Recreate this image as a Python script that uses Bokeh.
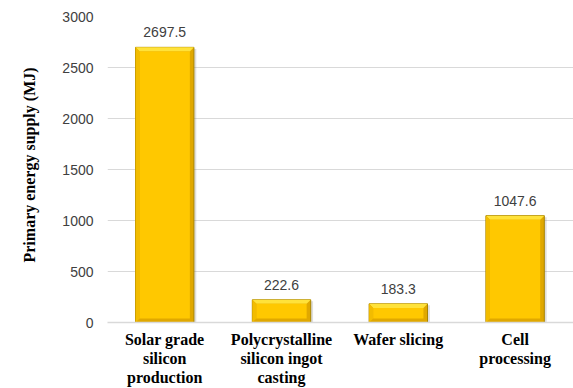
from bokeh.core.properties import value
from bokeh.embed import file_html
from bokeh.models import FixedTicker, Title
from bokeh.plotting import figure
from bokeh.resources import INLINE

# Primary energy supply per production stage (MJ)
stages = [
    "Solar grade\nsilicon\nproduction",
    "Polycrystalline\nsilicon ingot\ncasting",
    "Wafer slicing",
    "Cell\nprocessing",
]
energy_mj = [2697.5, 222.6, 183.3, 1047.6]
y_ticks = [0, 500, 1000, 1500, 2000, 2500, 3000]

xs = list(range(1, len(stages) + 1))

p = figure(
    width=573, height=388,
    x_range=(0.51, 4.5), y_range=(0, 3000),
    output_backend="svg", toolbar_location=None,
    min_border_left=106, min_border_right=0,
    min_border_top=16, min_border_bottom=65,
)
p.outline_line_color = None
p.background_fill_color = "white"
p.border_fill_color = "white"

# bars with a bevelled look: darker base, lighter top edge, inner face
half_w = 0.25
bev_x = 0.035
bev_y = 40.0

p.quad(left=[x - half_w + 0.02 for x in xs], right=[x + half_w + 0.02 for x in xs],
       bottom=[0] * 4, top=[v - 15 for v in energy_mj],
       fill_color="#7a7a7a", fill_alpha=0.25, line_color=None)

p.quad(left=[x - half_w for x in xs], right=[x + half_w for x in xs],
       bottom=[0] * 4, top=energy_mj,
       fill_color="#E0A800", line_color="#A88400", line_width=1)

# top bevel
top_xs = [[x - half_w, x + half_w, x + half_w - bev_x, x - half_w + bev_x] for x in xs]
top_ys = [[v, v, v - bev_y, v - bev_y] for v in energy_mj]
p.patches(top_xs, top_ys, fill_color="#FFE23A", line_color=None)

# left bevel
left_xs = [[x - half_w, x - half_w + bev_x, x - half_w + bev_x, x - half_w] for x in xs]
left_ys = [[v, v - bev_y, bev_y, 0] for v in energy_mj]
p.patches(left_xs, left_ys, fill_color="#F2BC00", line_color=None)

# inner face
p.quad(left=[x - half_w + bev_x for x in xs], right=[x + half_w - bev_x for x in xs],
       bottom=[bev_y] * 4, top=[v - bev_y for v in energy_mj],
       fill_color="#FFC800", line_color=None)

# value labels
p.text(x=xs, y=energy_mj, text=[f"{v:.1f}" for v in energy_mj],
       text_align="center", text_baseline="middle", y_offset=-15,
       text_font=value("Liberation Sans"), text_font_size="14px",
       text_color="#404040")

# axes
p.yaxis.ticker = FixedTicker(ticks=y_ticks)
p.yaxis.axis_line_color = None
p.yaxis.major_tick_line_color = None
p.yaxis.major_tick_out = 0
p.yaxis.minor_tick_line_color = None
p.yaxis.minor_tick_out = 0
p.yaxis.major_label_standoff = 14
p.yaxis.major_label_text_font = "Liberation Sans"
p.yaxis.major_label_text_font_size = "14px"
p.yaxis.major_label_text_color = "#404040"

p.xaxis.ticker = FixedTicker(ticks=xs)
p.xaxis.major_label_overrides = {x: s for x, s in zip(xs, stages)}
p.xaxis.axis_line_color = "#d9d9d9"
p.xaxis.axis_line_width = 1.5
p.xaxis.major_tick_line_color = None
p.xaxis.major_tick_out = 0
p.xaxis.minor_tick_line_color = None
p.xaxis.minor_tick_out = 0
p.xaxis.major_label_standoff = 8
p.xaxis.major_label_text_font = "Liberation Serif"
p.xaxis.major_label_text_font_style = "bold"
p.xaxis.major_label_text_font_size = "16px"
p.xaxis.major_label_text_color = "black"
p.xaxis.major_label_text_line_height = 1.12

p.xgrid.grid_line_color = None
p.ygrid.grid_line_color = "#d9d9d9"
p.ygrid.grid_line_width = 1.2

p.add_layout(Title(
    text="Primary energy supply (MJ)", align="left", offset=60,
    vertical_align="top",
    text_font="Liberation Serif", text_font_style="bold",
    text_font_size="16px", text_color="black", standoff=40,
), "left")

open("out.html", "w").write(file_html(p, INLINE))
